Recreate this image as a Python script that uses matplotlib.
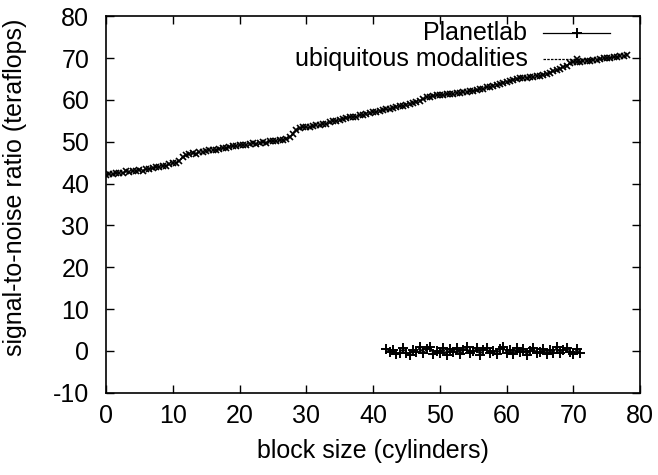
import numpy as np
import matplotlib.pyplot as plt
from matplotlib.lines import Line2D

plt.rcParams['font.family'] = ['Liberation Sans', 'DejaVu Sans']
plt.rcParams['axes.unicode_minus'] = False

# ubiquitous modalities: upper curve, x = 0..78 step 0.5
ubi_x = np.arange(0, 78.5, 0.5)
ubi_y = [42.0, 42.3, 42.2, 42.5, 42.6, 42.5, 42.9, 42.8, 43.0, 43.1,
         43.2, 43.1, 43.4, 43.5, 43.7, 43.9, 44.0, 44.3, 44.2, 44.6,
         44.8, 44.9, 45.4, 46.4, 46.8, 47.0, 47.2, 47.1, 47.5, 47.6,
         47.7, 47.9, 48.0, 47.9, 48.3, 48.4, 48.5, 48.8, 49.0, 48.9,
         49.1, 49.3, 49.2, 49.5, 49.6, 49.5, 49.8, 49.9, 49.8, 50.1,
         50.2, 50.1, 50.3, 50.5, 50.7, 51.2, 51.8, 52.9, 53.3, 53.4,
         53.5, 53.4, 53.7, 53.9, 53.9, 54.2, 54.3, 54.6, 54.9, 55.0,
         55.3, 55.5, 55.6, 55.9, 56.0, 56.0, 56.3, 56.4, 56.7, 56.8,
         57.0, 57.2, 57.3, 57.6, 57.7, 57.8, 58.1, 58.2, 58.5, 58.6,
         58.8, 59.1, 59.3, 59.4, 59.8, 60.2, 60.6, 60.8, 60.9, 61.1,
         61.2, 61.1, 61.3, 61.4, 61.4, 61.6, 61.6, 61.8, 61.9, 62.1,
         62.2, 62.3, 62.5, 62.7, 63.0, 63.1, 63.4, 63.6, 63.8, 64.1,
         64.3, 64.6, 64.8, 65.1, 65.2, 65.3, 65.3, 65.5, 65.5, 65.7,
         65.8, 66.0, 66.2, 66.5, 66.8, 67.1, 67.4, 67.9, 68.2, 68.8,
         69.0, 69.0, 69.1, 69.2, 69.3, 69.4, 69.5, 69.6, 69.8, 69.9,
         70.0, 70.1, 70.2, 70.3, 70.4, 70.5, 70.6]

# Planetlab: flat noisy series near zero, x = 42..71 step 0.5
plab_x = np.arange(42, 71.5, 0.5)
plab_y = [0.5, -0.3, 0.2, -0.8, -0.4, 0.6, -0.5, -0.9, 0.3, -0.2,
          0.9, -0.6, 0.4, 1.0, -0.7, 0.1, -0.4, 0.8, -1.0, 0.5,
          -0.3, 0.7, -0.8, 0.2, 0.9, -0.5, -0.1, 0.6, -0.9, 0.3,
          0.8, -0.6, 0.0, -0.8, 0.5, 0.9, -0.4, 0.2, -0.7, 0.6,
          -0.2, 0.4, -0.9, 0.1, 0.7, -0.5, -0.3, 0.5, -0.8, 0.2,
          -0.4, 0.9, -0.6, 0.3, 0.8, -0.2, -0.7, 0.4, -0.5]

fs = 18

fig = plt.figure(figsize=(6.58, 4.75), dpi=100)
ax = fig.add_axes([0.161, 0.173, 0.812, 0.793])

ax.plot(plab_x, plab_y, color='black', lw=0.9, marker='+', ms=6.5, mew=1.4)
ax.plot(ubi_x, ubi_y, color='black', lw=0.9, ls=(0, (2, 1)), marker='x', ms=4.5, mew=1.2)

ax.set_xlim(0, 80)
ax.set_ylim(-10, 80)
ax.set_xticks(range(0, 81, 10))
ax.set_yticks(range(-10, 81, 10))
ax.tick_params(direction='in', length=6, width=1, top=True, right=True, labelsize=fs)
ax.tick_params(axis='x', pad=8)
ax.tick_params(axis='y', pad=12)
for s in ax.spines.values():
    s.set_linewidth(1.2)

ax.set_xlabel('block size (cylinders)', fontsize=fs, labelpad=8)
ax.set_ylabel('signal-to-noise ratio (teraflops)', fontsize=fs)
ax.yaxis.set_label_coords(-0.148, 0.546)

# gnuplot-style key: right-aligned text, sample line to the right
tr = ax.transAxes
ax.text(0.789, 0.955, 'Planetlab', transform=tr, ha='right', va='center', fontsize=fs)
ax.text(0.789, 0.886, 'ubiquitous modalities', transform=tr, ha='right', va='center', fontsize=fs)
ax.add_line(Line2D([0.818, 0.944], [0.955, 0.955], transform=tr, color='black', lw=0.9))
ax.add_line(Line2D([0.881], [0.955], transform=tr, color='black', marker='+', ms=6.5, mew=1.4))
ax.add_line(Line2D([0.818, 0.944], [0.886, 0.886], transform=tr, color='black', lw=0.9, ls=(0, (2, 1))))
ax.add_line(Line2D([0.881], [0.886], transform=tr, color='black', marker='x', ms=4.5, mew=1.2))

fig.savefig('out.png', dpi=100)
